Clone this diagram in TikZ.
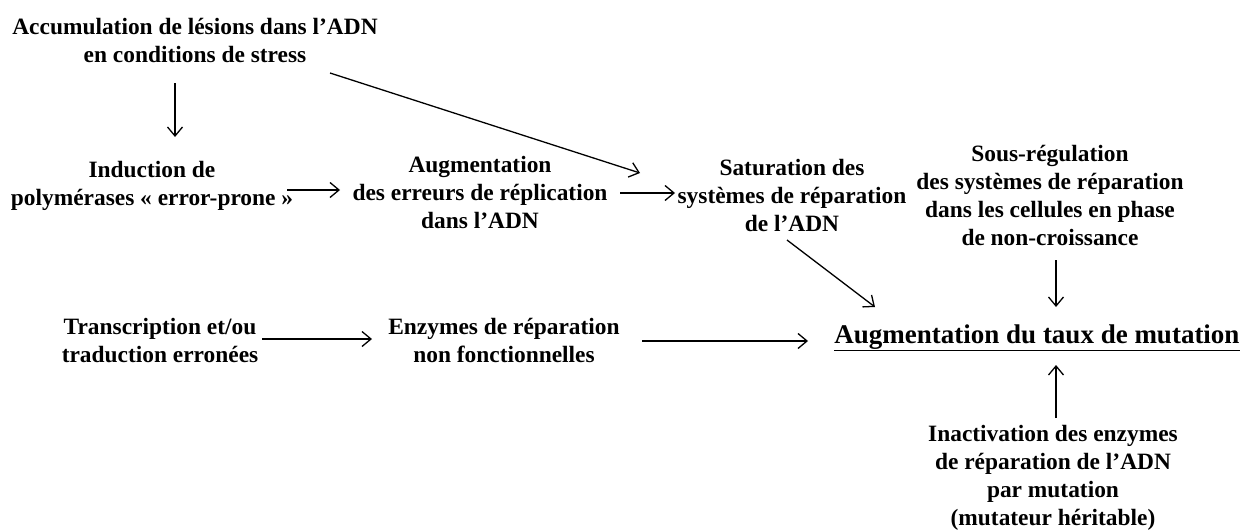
\documentclass[tikz,border=0pt]{standalone}
\usepackage{fontspec}
\setmainfont{Liberation Serif}
\usetikzlibrary{arrows.meta}
\tikzset{
  txt/.style={align=center, inner sep=0pt, font=\fontsize{23.4}{28}\selectfont\bfseries},
  big/.style={align=center, inner sep=0pt, font=\fontsize{27}{32}\selectfont\bfseries},
  arr/.style={draw=black, line width=1.3pt, -{Straight Barb[length=9pt,width=15pt,line width=1.3pt]}}
}
\begin{document}
\begin{tikzpicture}[x=1pt,y=-1pt]
\useasboundingbox (0,0) rectangle (1245,530);
\node[txt] (A) at (195,40) {Accumulation de lésions dans l’ADN\\en conditions de stress};
\node[txt] (B) at (152,186) {Induction de\\polymérases « error-prone »};
\node[txt] (C) at (480,192) {Augmentation\\des erreurs de réplication\\dans l’ADN};
\node[txt] (D) at (792,195) {Saturation des\\systèmes de réparation\\de l’ADN};
\node[txt] (E) at (1050,195) {Sous-régulation\\des systèmes de réparation\\dans les cellules en phase\\de non-croissance};
\node[txt] (F) at (160,341) {Transcription et/ou\\traduction erronées};
\node[txt] (H) at (504,340) {Enzymes de réparation\\non fonctionnelles};
\node[big, anchor=base] (G) at (1037,343) {\underline{Augmentation du taux de mutation}};
\node[txt] (I) at (1053,478) {Inactivation des enzymes\\de réparation de l’ADN\\par mutation\\(mutateur héritable)};
% connector ends
\coordinate (a1) at (175,83);   \coordinate (b1) at (175,137);
\coordinate (a2) at (330,73);   \coordinate (d2) at (640,173);
\coordinate (b3) at (287,190);  \coordinate (c3) at (340,190);
\coordinate (c4) at (620,193);  \coordinate (d4) at (675,193);
\coordinate (d5) at (787,240);  \coordinate (g5) at (875,307);
\coordinate (e6) at (1056,260); \coordinate (g6) at (1056,307);
\coordinate (f7) at (262,339);  \coordinate (h7) at (372,339);
\coordinate (h8) at (642,341);  \coordinate (g8) at (808,341);
\coordinate (i9) at (1056,418); \coordinate (g9) at (1056,365);
\draw[arr] (a1) -- (b1);
\draw[arr] (a2) -- (d2);
\draw[arr] (b3) -- (c3);
\draw[arr] (c4) -- (d4);
\draw[arr] (d5) -- (g5);
\draw[arr] (e6) -- (g6);
\draw[arr] (f7) -- (h7);
\draw[arr] (h8) -- (g8);
\draw[arr] (i9) -- (g9);
\end{tikzpicture}
\end{document}
